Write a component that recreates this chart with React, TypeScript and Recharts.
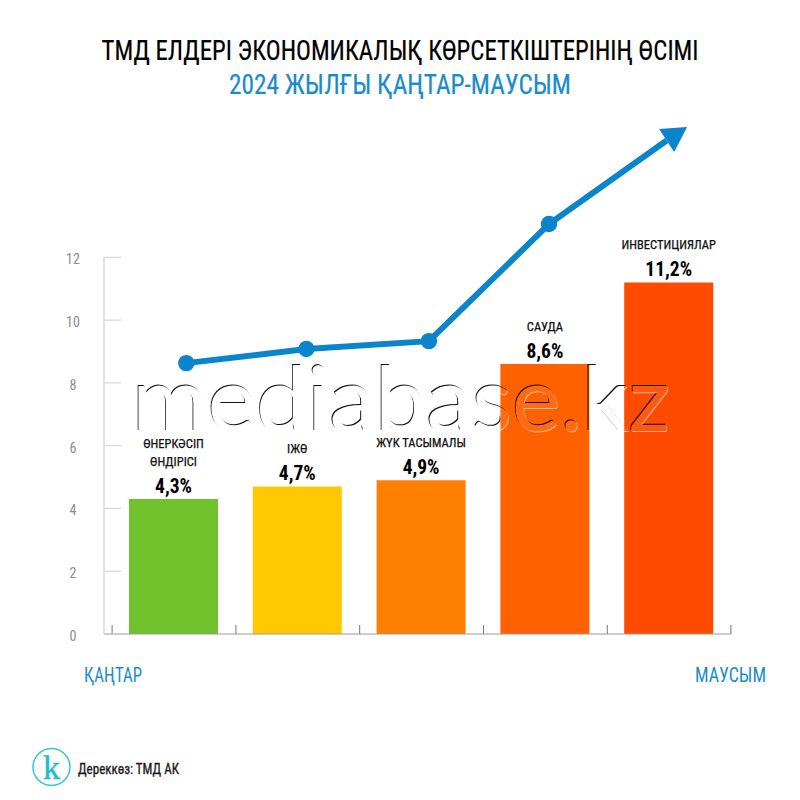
import React from "react";
import { ComposedChart, Bar, Line, XAxis, YAxis, Cell, LabelList } from "recharts";

const categories = ["ӨНЕРКӘСІП\nӨНДІРІСІ", "ІЖӨ", "ЖҮК ТАСЫМАЛЫ", "САУДА", "ИНВЕСТИЦИЯЛАР"];
const barValues = [4.3, 4.7, 4.9, 8.6, 11.2];
const barLabels = ["4,3%", "4,7%", "4,9%", "8,6%", "11,2%"];
const barColors = ["#6fc22c", "#ffc800", "#ff7f00", "#ff6000", "#ff4b00"];
const yTicks = [0, 2, 4, 6, 8, 10, 12];
const trendX = [0.6, 1.57, 2.56, 3.53, 4.48];
const trendY = [8.63, 9.08, 9.33, 13.06, 15.72];

const barData = categories.map((name, i) => ({ name, value: barValues[i], label: barLabels[i] }));
const trendData = trendX.map((x, i) => ({ x, y: trendY[i] }));

const NARROW = "'Liberation Sans Narrow', 'Roboto Condensed', Roboto, sans-serif";
const BLUE = "#0a85cc";
const LABEL_BLUE = "#1a8cc8";

const YTick = (props: any) => {
  const { x, y, payload, index } = props;
  return (
    <g>
      <text x={x - 31} y={y + 7} textAnchor="middle" fontSize={14} fill="#8c8c8c" fontFamily={NARROW}>{payload.value}</text>
      <line x1={x} x2={x + 17} y1={y} y2={y} stroke="#cfcfcf" strokeWidth={1} />
      {index > 0 && <line x1={x} x2={x} y1={y} y2={y + 62.8} stroke="#cfcfcf" strokeWidth={1.2} />}
    </g>
  );
};

const XTick = (props: any) => {
  const { x, y, index } = props;
  const half = 61.8;
  return (
    <g>
      <line x1={x - half} x2={x - half} y1={y - 9} y2={y} stroke="#777" strokeWidth={1} />
      {index === categories.length - 1 && <line x1={x + half} x2={x + half} y1={y - 9} y2={y} stroke="#777" strokeWidth={1} />}
    </g>
  );
};

const BarLabel = (props: any) => {
  const { x, y, width, value, index } = props;
  const cx = x + width / 2;
  const lines = String(categories[index]).split("\n");
  const first = y - 33 - (lines.length - 1) * 18;
  return (
    <g>
      {lines.map((t: string, i: number) => (
        <text key={i} x={cx} y={first + i * 18} textAnchor="middle" fontSize={12.5} fill="#111" stroke="#111" strokeWidth={0.25} fontFamily={NARROW}>{t}</text>
      ))}
      <text x={cx} y={y - 6} textAnchor="middle" fontSize={19.5} fontWeight={700} fill="#000" fontFamily={NARROW}>{value}</text>
    </g>
  );
};

const TrendDot = (props: any) => {
  const { cx, cy, index } = props;
  if (index === trendData.length - 1) {
    return <polygon points={`${cx + 20.5},${cy - 13.5} ${cx - 7.5},${cy - 11.5} ${cx + 7.5},${cy + 11.5}`} fill={BLUE} />;
  }
  return <circle cx={cx} cy={cy} r={8.2} fill={BLUE} />;
};

const WM = "mediabase.kz";
const wmProps = { y: 431, fontFamily: "Lato, sans-serif", fontWeight: 400, fontSize: 90, textLength: 538, lengthAdjust: "spacingAndGlyphs" } as const;

const Watermark = () => (
  <g>
    <defs>
      <mask id="wm-cut" maskUnits="userSpaceOnUse" x={0} y={0} width={800} height={800}>
        <rect width={800} height={800} fill="#fff" />
        <text x={132} {...wmProps} fill="#000">{WM}</text>
      </mask>
    </defs>
    <text x={132} {...wmProps} fill="#fff" opacity={0.07}>{WM}</text>
    <g mask="url(#wm-cut)">
      <text x={131.2} {...wmProps} y={430.4} fill="#111">{WM}</text>
      <text x={132.8} {...wmProps} y={431.6} fill="#fff" opacity={0.55}>{WM}</text>
    </g>
  </g>
);

export default function App() {
  return (
    <div style={{ position: "absolute", left: 0, top: 0, width: 800, height: 800, background: "#fff" }}>
      <ComposedChart width={800} height={800} data={barData} margin={{ top: 69, right: 69, bottom: 165, left: 103 }}>
        <XAxis dataKey="name" xAxisId="cat" height={1} padding={{ left: 8, right: 0 }} interval={0} tickLine={false} tickSize={0} tickMargin={0}
          axisLine={{ stroke: "#9a9a9a" }} tick={<XTick />} />
        <XAxis xAxisId="trend" type="number" dataKey="x" domain={[-0.0647, 5]} hide />
        <YAxis yAxisId="v" width={1} domain={[0, 18]} ticks={yTicks} interval={0} axisLine={false} tickLine={false} tickSize={0} tickMargin={0} tick={<YTick />} />
        <Bar xAxisId="cat" yAxisId="v" dataKey="value" barSize={89} isAnimationActive={false}>
          {barData.map((d, i) => <Cell key={d.name} fill={barColors[i]} />)}
          <LabelList dataKey="label" content={<BarLabel />} />
        </Bar>
        <Line xAxisId="trend" yAxisId="v" data={trendData} dataKey="y" type="linear" stroke={BLUE} strokeWidth={6}
          dot={<TrendDot />} activeDot={false} isAnimationActive={false} />
      </ComposedChart>
      <svg width={800} height={800} style={{ position: "absolute", left: 0, top: 0, pointerEvents: "none" }}>
        <text x={400} y={60} textAnchor="middle" fontSize={27} fill="#000" stroke="#000" strokeWidth={0.2} fontFamily={NARROW} textLength={597} lengthAdjust="spacingAndGlyphs">ТМД ЕЛДЕРІ ЭКОНОМИКАЛЫҚ КӨРСЕТКІШТЕРІНІҢ ӨСІМІ</text>
        <text x={400} y={94} textAnchor="middle" fontSize={27} fill={LABEL_BLUE} stroke={LABEL_BLUE} strokeWidth={0.2} fontFamily={NARROW} textLength={342} lengthAdjust="spacingAndGlyphs">2024 ЖЫЛҒЫ ҚАҢТАР-МАУСЫМ</text>
        <Watermark />
        <text x={84} y={682} fontSize={20} fill={LABEL_BLUE} fontFamily={NARROW} textLength={58} lengthAdjust="spacingAndGlyphs">ҚАҢТАР</text>
        <text x={695} y={682} fontSize={20} fill={LABEL_BLUE} fontFamily={NARROW} textLength={71} lengthAdjust="spacingAndGlyphs">МАУСЫМ</text>
        <circle cx={51.5} cy={767} r={18.5} fill="none" stroke="#35c3d6" strokeWidth={1.5} />
        <text x={51.5} y={779} textAnchor="middle" fontSize={34} fill="#22bcd0" stroke="#22bcd0" strokeWidth={0.5} fontFamily="'Liberation Serif', serif">k</text>
        <text x={78} y={774} fontSize={14} fill="#1a1a1a" stroke="#1a1a1a" strokeWidth={0.3} fontFamily={NARROW} textLength={101} lengthAdjust="spacingAndGlyphs">Дереккөз: ТМД АК</text>
      </svg>
    </div>
  );
}
